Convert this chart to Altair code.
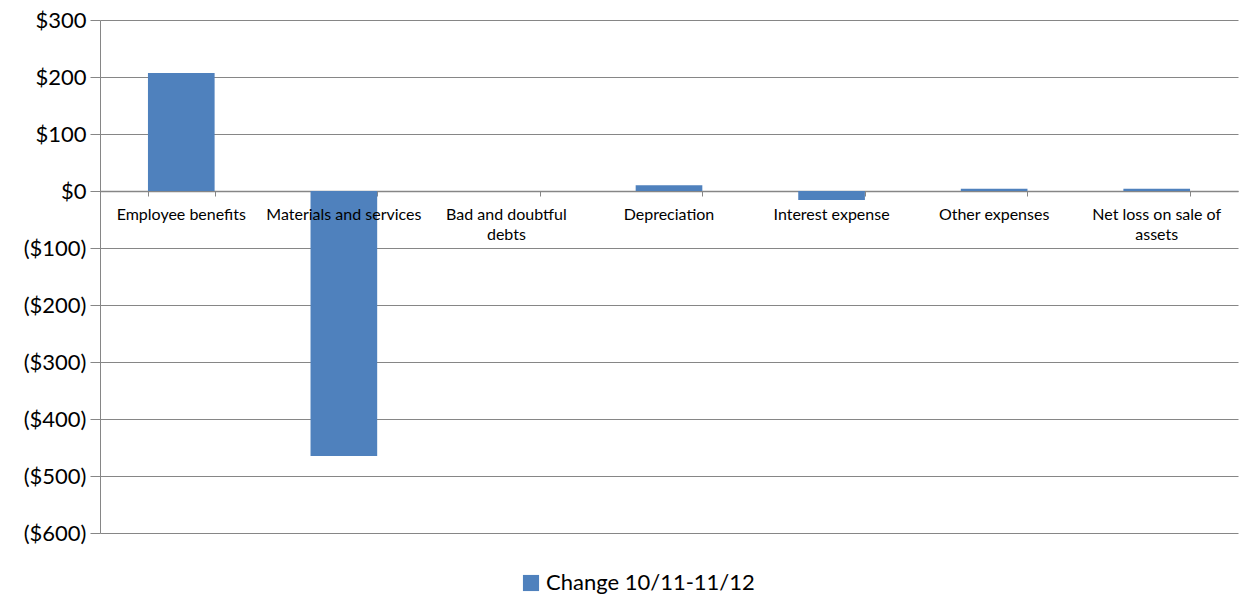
import altair as alt
import pandas as pd

categories = ["Employee benefits", "Materials and services", "Bad and doubtful debts",
              "Depreciation", "Interest expense", "Other expenses", "Net loss on sale of assets"]
labels = ["Employee benefits", "Materials and services", "Bad and doubtful\ndebts",
          "Depreciation", "Interest expense", "Other expenses", "Net loss on sale of\nassets"]
values = [207, -465, 0, 10, -16, 4, 4]
series_name = "Change 10/11-11/12"

df = pd.DataFrame({"category": categories, "label": labels, "value": values,
                   "series": [series_name] * len(categories)})

W, H = 1138, 513
FONT = "Lato"

x_scale = alt.Scale(domain=categories, paddingInner=0.59, paddingOuter=0.295)
y_scale = alt.Scale(domain=[-600, 300], nice=False)

bars = alt.Chart(df).mark_bar().encode(
    x=alt.X("category:N", scale=x_scale, sort=categories,
            axis=alt.Axis(title=None, labels=False, tickBand="extent", offset=-342,
                          domainColor="#868686", tickColor="#868686", tickSize=5,
                          domainWidth=1.5, grid=False)),
    y=alt.Y("value:Q", scale=y_scale,
            axis=alt.Axis(title=None, values=[-600, -500, -400, -300, -200, -100, 0, 100, 200, 300],
                          labelExpr="datum.value < 0 ? '($' + abs(datum.value) + ')' : '$' + datum.value",
                          labelFont=FONT, labelFontSize=22, labelColor="#000000",
                          labelPadding=4, tickSize=10, tickColor="#868686",
                          domainColor="#868686", grid=True, gridColor="#868686",
                          gridWidth=1)),
    color=alt.Color("series:N", scale=alt.Scale(domain=[series_name], range=["#4F81BD"]),
                    legend=alt.Legend(title=None, orient="none", legendX=420, legendY=552,
                                      labelFont=FONT, labelFontSize=22, labelColor="#000000",
                                      labelLimit=0,
                                      symbolType="square", symbolSize=260,
                                      symbolStrokeWidth=0)),
)

text = alt.Chart(df).mark_text(baseline="middle", dy=24, fontSize=16, font=FONT,
                               color="#000000", lineBreak="\n", lineHeight=20).encode(
    x=alt.X("category:N", scale=x_scale, sort=categories),
    y=alt.datum(0),
    text="label:N",
)

chart = alt.layer(bars, text).properties(
    width=W, height=H,
    autosize=alt.AutoSizeParams(type="none"),
    padding={"left": 100, "top": 20, "right": 3, "bottom": 63},
).configure_view(stroke=None)

chart.save("out.html", embed_options={"renderer": "svg", "actions": False})
